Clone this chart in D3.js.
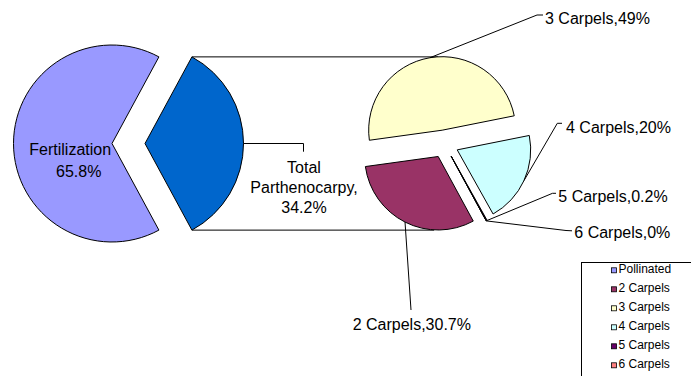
<!DOCTYPE html>
<html><head><meta charset="utf-8">
<script src="https://cdn.jsdelivr.net/npm/d3@7"></script>
<style>body{margin:0;background:#fff} svg{display:block} text{font-family:"Liberation Sans",Arial,sans-serif;fill:#000}</style>
</head><body><svg id="c" width="691" height="376"></svg>
<script>
// ---- data ----
const mainCategories = ["Fertilization", "Total Parthenocarpy"];
const mainValues = [65.8, 34.2];
const mainLabelLines = [["Fertilization", "65.8%"], ["Total", "Parthenocarpy,", "34.2%"]];
const subCategories = ["2 Carpels", "3 Carpels", "4 Carpels", "5 Carpels", "6 Carpels"];
const subValues = [30.7, 49, 20, 0.2, 0];
const subLabels = ["2 Carpels,30.7%", "3 Carpels,49%", "4 Carpels,20%", "5 Carpels,0.2%", "6 Carpels,0%"];
const legendLabels = ["Pollinated", "2 Carpels", "3 Carpels", "4 Carpels", "5 Carpels", "6 Carpels"];

// ---- styles ----
const mainColors = ["#9999FF", "#0066CC"];
const subColors = ["#993366", "#FFFFCC", "#CCFFFF", "#660066", "#FF8080"];
const legendColors = ["#9999FF", "#993366", "#FFFFCC", "#CCFFFF", "#660066", "#FF8080"];

const svg = d3.select("#c");
svg.append("rect").attr("width", 691).attr("height", 376).attr("fill", "#fff");
const deg = Math.PI / 180;

// ---- first pie ----
const c1 = [112, 143.5], r1 = 98.5, explode1 = 33;
const share = mainValues[1] / d3.sum(mainValues);
const s1 = Math.PI / 2 + share * Math.PI;
const pie1 = d3.pie().sort(null).startAngle(s1).endAngle(s1 + 2 * Math.PI);
const arcs1 = pie1(mainValues);
const arc1 = d3.arc().innerRadius(0).outerRadius(r1);
const off = (a, e) => [e * Math.sin(a), -e * Math.cos(a)];
arcs1.forEach((d, i) => {
  const mid = (d.startAngle + d.endAngle) / 2;
  const o = off(mid, i === 1 ? explode1 : 0);
  d.apex = [c1[0] + o[0], c1[1] + o[1]];
  d.mid = mid;
});

// ---- second pie ----
const c2 = [444.5, 144], r2 = 73.5, explode2 = 14;
const s2 = 151.5 * deg;
const pie2 = d3.pie().sort(null).startAngle(s2).endAngle(s2 + 2 * Math.PI);
const arcs2 = pie2(subValues);
const arc2 = d3.arc().innerRadius(0).outerRadius(r2);
arcs2.forEach(d => {
  const mid = (d.startAngle + d.endAngle) / 2;
  const o = off(mid, explode2);
  d.apex = [c2[0] + o[0], c2[1] + o[1]];
  d.mid = mid;
  d.edge = [d.apex[0] + r2 * Math.sin(mid), d.apex[1] - r2 * Math.cos(mid)];
});

// ---- connector (series) lines ----
const p = arcs1[1];
const pTop = [p.apex[0] + r1 * Math.sin(p.endAngle), p.apex[1] - r1 * Math.cos(p.endAngle)];
const pBot = [p.apex[0] + r1 * Math.sin(p.startAngle), p.apex[1] - r1 * Math.cos(p.startAngle)];
const yTop = [arcs2[1].apex[0] - 8, arcs2[1].apex[1] - r2];
const yBot = [arcs2[0].apex[0], arcs2[0].apex[1] + r2];
svg.append("line").attr("x1", pTop[0]).attr("y1", pTop[1]).attr("x2", yTop[0]).attr("y2", pTop[1])
  .attr("stroke", "#000").attr("stroke-width", 1);
svg.append("line").attr("x1", pBot[0]).attr("y1", pBot[1]).attr("x2", yBot[0]).attr("y2", pBot[1])
  .attr("stroke", "#000").attr("stroke-width", 1);

// draw slices
svg.append("g").selectAll("path").data(arcs1).join("path")
  .attr("transform", d => `translate(${d.apex[0]},${d.apex[1]})`)
  .attr("d", arc1).attr("fill", (d, i) => mainColors[i])
  .attr("stroke", "#000").attr("stroke-width", 1).attr("stroke-linejoin", "miter");

svg.append("g").selectAll("path").data(arcs2).join("path")
  .attr("transform", d => `translate(${d.apex[0]},${d.apex[1]})`)
  .attr("d", arc2).attr("fill", (d, i) => subColors[i])
  .attr("stroke", "#000").attr("stroke-width", 1);

// ---- first pie labels ----
const fs = 16;
const fert = svg.append("text").attr("font-size", fs);
fert.append("tspan").attr("x", 29.3).attr("y", 154.5).text(mainLabelLines[0][0]);
fert.append("tspan").attr("x", 56).attr("y", 177).text(mainLabelLines[0][1]);

const pMid = [p.apex[0] + r1 * Math.sin(p.mid), p.apex[1] - r1 * Math.cos(p.mid)];
svg.append("polyline").attr("points", [pMid, [303.5, pMid[1]], [303.5, 151.7]].map(q => q.join(",")).join(" "))
  .attr("fill", "none").attr("stroke", "#000").attr("stroke-width", 1);
const tot = svg.append("text").attr("font-size", fs).attr("text-anchor", "middle");
[172.7, 193.3, 213.3].forEach((y, i) => tot.append("tspan").attr("x", 304).attr("y", y).text(mainLabelLines[1][i]));

// ---- second pie labels (layout positions) ----
const subLayout = [
  { pts: [[411, 310]], tx: 352.7, ty: 330 },
  { pts: [[537, 15], [543, 15]], tx: 545, ty: 24 },
  { pts: [[557.3, 123.3], [562, 123.3]], tx: 566, ty: 133.3 },
  { pts: [[552.5, 193.3], [556, 193.3]], tx: 558.3, ty: 202.3 },
  { pts: [[566, 230.5], [572, 230.8]], tx: 574.3, ty: 238.3 }
];
arcs2.forEach((d, i) => {
  const L = subLayout[i];
  svg.append("polyline").attr("points", [d.edge, ...L.pts].map(q => q.join(",")).join(" "))
    .attr("fill", "none").attr("stroke", "#000").attr("stroke-width", 1);
  svg.append("text").attr("font-size", fs).attr("x", L.tx).attr("y", L.ty).text(subLabels[i]);
});

// ---- legend ----
const lg = svg.append("g");
lg.append("rect").attr("x", 581.5).attr("y", 262.5).attr("width", 140).attr("height", 140)
  .attr("fill", "#fff").attr("stroke", "#000").attr("stroke-width", 1);
legendLabels.forEach((t, i) => {
  const by = 272.8 + i * 19;
  lg.append("rect").attr("x", 611.5).attr("y", by - 5).attr("width", 5).attr("height", 5)
    .attr("fill", legendColors[i]).attr("stroke", "#000").attr("stroke-width", 0.8);
  lg.append("text").attr("x", 618.5).attr("y", by).attr("font-size", 12).text(t);
});
</script></body></html>
